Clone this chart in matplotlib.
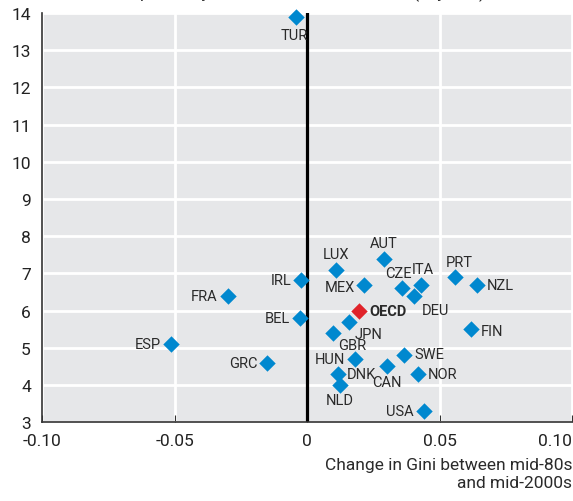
import matplotlib.pyplot as plt
import numpy as np

plt.rcParams['font.family'] = ['Roboto', 'DejaVu Sans']

# data
countries = ['TUR', 'AUT', 'LUX', 'PRT', 'NZL', 'IRL', 'MEX', 'CZE', 'ITA', 'DEU',
             'FRA', 'BEL', 'JPN', 'GBR', 'FIN', 'ESP', 'SWE', 'HUN', 'GRC', 'CAN',
             'DNK', 'NOR', 'NLD', 'USA']
gini_change = [-0.0042, 0.029, 0.011, 0.0557, 0.064, -0.0023, 0.0216, 0.036, 0.043, 0.0405,
               -0.030, -0.0027, 0.016, 0.0098, 0.062, -0.0515, 0.0367, 0.018, -0.015, 0.030,
               0.0117, 0.042, 0.0125, 0.044]
life_gain = [13.9, 7.4, 7.1, 6.9, 6.7, 6.83, 6.7, 6.6, 6.7, 6.4,
             6.4, 5.8, 5.7, 5.4, 5.5, 5.1, 4.8, 4.7, 4.6, 4.5,
             4.3, 4.3, 4.0, 3.3]
oecd_x, oecd_y = 0.0197, 6.0

# label offsets in points (dx, dy, ha, va)
offsets = {
    'TUR': (-1, -8, 'center', 'top'), 'AUT': (0, 6, 'center', 'bottom'),
    'LUX': (0, 6, 'center', 'bottom'), 'PRT': (3, 6, 'center', 'bottom'),
    'NZL': (7, 0, 'left', 'center'), 'IRL': (-7, 0, 'right', 'center'),
    'MEX': (-7, -2, 'right', 'center'), 'CZE': (-3, 6, 'center', 'bottom'),
    'ITA': (1, 6, 'center', 'bottom'), 'DEU': (5, -5, 'left', 'top'),
    'FRA': (-7, 0, 'right', 'center'), 'BEL': (-7, 0, 'right', 'center'),
    'JPN': (4, -4, 'left', 'top'), 'GBR': (4, -4, 'left', 'top'),
    'FIN': (7, -1, 'left', 'center'), 'ESP': (-7, 0, 'right', 'center'),
    'SWE': (7, 1, 'left', 'center'), 'HUN': (-7, 0, 'right', 'center'),
    'GRC': (-7, 0, 'right', 'center'), 'CAN': (0, -6, 'center', 'top'),
    'DNK': (6, 0, 'left', 'center'), 'NOR': (7, 0, 'left', 'center'),
    'NLD': (0, -6, 'center', 'top'), 'USA': (-7, 0, 'right', 'center'),
}

fig = plt.figure(figsize=(5.73, 5.02), dpi=100)
ax = fig.add_axes([0.0733, 0.157, 0.925, 0.815])
ax.set_facecolor('#e6e7e9')

ax.set_xlim(-0.10, 0.10)
ax.set_ylim(3, 14)
ax.set_xticks([-0.10, -0.05, 0, 0.05, 0.10])
ax.set_xticklabels(['-0.10', '-0.05', '0', '0.05', '0.10'])
ax.get_xticklabels()[-1].set_ha('right')
ax.set_yticks(np.arange(3, 15, 1))
ax.grid(True, color='white', linewidth=2)
ax.set_axisbelow(True)
ax.tick_params(axis='x', direction='in', length=5, color='#333333', labelsize=12.5, pad=8,
               labelcolor='#222222')
ax.tick_params(axis='y', length=0, labelsize=12.5, pad=8, labelcolor='#222222')
for s in ['top', 'right']:
    ax.spines[s].set_visible(False)
for s in ['left', 'bottom']:
    ax.spines[s].set_color('#333333')
    ax.spines[s].set_linewidth(1.2)

ax.axvline(0, color='black', linewidth=2.3, zorder=2)

ax.scatter(gini_change, life_gain, marker='D', s=70, color='#0088cf', zorder=3, clip_on=False, linewidths=0)
ax.scatter([oecd_x], [oecd_y], marker='D', s=70, color='#e0232a', zorder=3, linewidths=0)

for c, x, y in zip(countries, gini_change, life_gain):
    dx, dy, ha, va = offsets[c]
    ax.annotate(c, (x, y), xytext=(dx, dy), textcoords='offset points',
                ha=ha, va=va, fontsize=10.5, color='#2a2a2a')
ax.annotate('OECD', (oecd_x, oecd_y), xytext=(7, 0), textcoords='offset points',
            ha='left', va='center', fontsize=10.5, fontweight='bold', color='#2a2a2a')

ax.text(1.0, -0.085, 'Change in Gini between mid-80s\nand mid-2000s', transform=ax.transAxes,
        ha='right', va='top', fontsize=12.5, color='#2a2a2a', linespacing=1.25)

# title sits mostly above the visible area
fig.text(0.01, 1.003, 'Increase in life expectancy at birth since the mid-80s (in years)',
         ha='left', va='baseline', fontsize=12.5, color='#2a2a2a')

fig.savefig('out.png', dpi=100)
